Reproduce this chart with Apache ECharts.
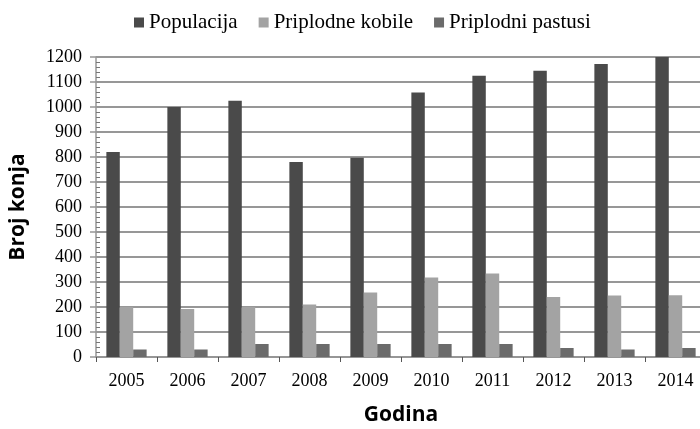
<!DOCTYPE html>
<html>
<head>
<meta charset="utf-8">
<script src="https://cdn.jsdelivr.net/npm/echarts@6/dist/echarts.min.js"></script>
<style>
  html, body { margin: 0; padding: 0; background: #ffffff; }
  #chart { width: 700px; height: 429px; }
</style>
</head>
<body>
<div id="chart"></div>
<script>
// Godine i broj konja po kategoriji
const years = ['2005', '2006', '2007', '2008', '2009', '2010', '2011', '2012', '2013', '2014'];
const populacija = [820, 1000, 1025, 780, 797, 1058, 1125, 1145, 1172, 1200];
const kobile = [200, 192, 200, 210, 258, 318, 334, 240, 246, 247];
const pastusi = [30, 30, 52, 52, 52, 52, 52, 36, 30, 36];
const seriesNames = ['Populacija', 'Priplodne kobile', 'Priplodni pastusi'];
const seriesColors = ['#4a4a4a', '#a3a3a3', '#6b6b6b'];

const serif = '"Liberation Serif", "Times New Roman", serif';
const sans = '"Open Sans", "Noto Sans", sans-serif';
const gridGray = '#979797';

const chart = echarts.init(document.getElementById('chart'), null, { renderer: 'canvas' });

const values = [populacija, kobile, pastusi];

chart.setOption({
  backgroundColor: '#ffffff',
  animation: false,
  legend: {
    top: 7,
    left: 129,
    itemWidth: 10,
    itemHeight: 10,
    itemGap: 21,
    icon: 'rect',
    textStyle: { fontFamily: serif, fontSize: 21, color: '#000' },
    data: seriesNames
  },
  grid: { left: 96, right: -6, top: 57, bottom: 72, containLabel: false, outerBoundsMode: 'none' },
  xAxis: {
    type: 'category',
    data: years,
    name: 'Godina',
    nameLocation: 'middle',
    nameGap: 48,
    nameTextStyle: { fontFamily: sans, fontWeight: 'bold', fontSize: 21, color: '#000' },
    axisLine: { lineStyle: { color: gridGray, width: 1.5 } },
    axisTick: { show: true, length: 5, lineStyle: { color: '#555', width: 1 } },
    axisLabel: { fontFamily: serif, fontSize: 18, color: '#000', margin: 15 }
  },
  yAxis: {
    type: 'value',
    min: 0,
    max: 1200,
    interval: 100,
    name: 'Broj konja',
    nameLocation: 'middle',
    nameGap: 67,
    nameTextStyle: { fontFamily: sans, fontWeight: 'bold', fontSize: 21, color: '#000' },
    axisLine: { show: true, lineStyle: { color: gridGray, width: 1.5 } },
    axisTick: { show: true, length: 6, lineStyle: { color: gridGray, width: 1.5 } },
    minorTick: { show: true, splitNumber: 5, length: -4, lineStyle: { color: '#777', width: 1 } },
    axisLabel: {
      fontFamily: serif, fontSize: 18, color: '#000', margin: 14,
      formatter: (v) => String(v)
    },
    splitLine: { show: true, lineStyle: { color: gridGray, width: 1.8 } }
  },
  series: seriesNames.map((name, i) => ({
    name: name,
    type: 'bar',
    data: values[i],
    barGap: '0%',
    barCategoryGap: '34%',
    itemStyle: { color: seriesColors[i] }
  }))
});
</script>
</body>
</html>
